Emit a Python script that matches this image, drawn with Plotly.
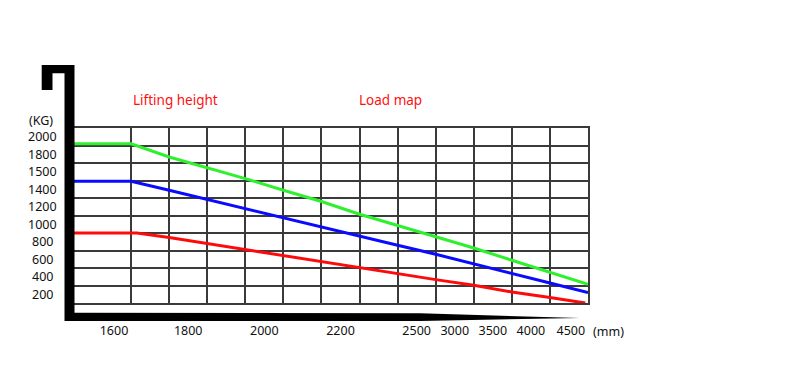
import plotly.graph_objects as go

# ---------------- data ----------------
# x positions are measured in grid cells (vertical grid lines at 0..12)
green_x = [-1.5, 0, 1, 2, 3, 4, 5, 6, 7, 8, 9, 10, 11, 12]
green_kg = [1819, 1819, 1669, 1548, 1422, 1288, 1160, 1014, 888, 762, 629, 488, 347, 214]

blue_x = [-1.5, 0, 1, 2, 3, 4, 5, 6, 7, 8, 9, 10, 11, 12]
blue_kg = [1391, 1391, 1288, 1182, 1079, 976, 869, 766, 660, 557, 450, 336, 229, 119]

red_x = [-1.5, 0.15, 1, 2, 3, 4, 5, 6, 7, 8, 9, 10, 11, 11.93]
red_kg = [800, 800, 748, 679, 610, 537, 469, 405, 336, 267, 202, 126, 62, 0]

x_tick_pos = [-0.45, 1.5, 3.5, 5.5, 7.5, 8.5, 9.5, 10.5, 11.55]
x_tick_labels = ["1600", "1800", "2000", "2200", "2500", "3000", "3500", "4000", "4500"]

y_tick_pos = [100, 300, 500, 700, 900, 1100, 1300, 1500, 1700, 1900]
y_tick_labels = ["200", "400", "600", "800", "1000", "1200", "1400", "1500", "1800", "2000"]

x_grid = list(range(0, 12))
y_grid = list(range(200, 2000, 200))

# ---------------- layout geometry ----------------
OFF = 8  # default page body margin
W, H = 784, 358
L, R, T, B = 66, 204, 120, 63
PW, PH = W - L - R, H - T - B

FONT = "Noto Sans"
GRID = "#3a3a3a"
TXT = "#111"

fig = go.Figure()
for xs, ys, col in [(green_x, green_kg, "#2ef02e"), (blue_x, blue_kg, "#0a0aff"), (red_x, red_kg, "#ff0a0a")]:
    fig.add_trace(go.Scatter(x=xs, y=ys, mode="lines", line=dict(color=col, width=3),
                             showlegend=False, hoverinfo="skip"))


def px(x, y):
    return (x - OFF - L) / PW, (H - B - (y - OFF)) / PH


# black forklift-like bracket (decoration)
pts = [(41.7, 65), (74.5, 65), (74.5, 312.7), (420, 313.3), (580, 318), (420, 321),
       (64.5, 321), (64.5, 73.3), (52.5, 73.3), (52.5, 90), (41.7, 90)]
path = "M " + " L ".join(f"{px(a, b)[0]:.5f},{px(a, b)[1]:.5f}" for a, b in pts) + " Z"
fig.add_shape(type="path", path=path, xref="paper", yref="paper",
              fillcolor="black", line=dict(width=0), layer="above")

fig.update_xaxes(range=[-1.5, 12.0], tickmode="array", tickvals=x_tick_pos, ticktext=x_tick_labels,
                 showgrid=False, zeroline=False, ticks="", ticklabelstandoff=15,
                 showline=True, mirror=True, linecolor=GRID, linewidth=1.5,
                 tickfont=dict(family=FONT, size=12.5, color=TXT),
                 minor=dict(tickmode="array", tickvals=x_grid, showgrid=True, gridcolor=GRID, gridwidth=1.5, ticks=""))
fig.update_yaxes(range=[0, 2000], tickmode="array", tickvals=y_tick_pos, ticktext=[""] * len(y_tick_pos),
                 showgrid=False, zeroline=False, ticks="",
                 showline=True, mirror=True, linecolor=GRID, linewidth=1.5,
                 minor=dict(tickmode="array", tickvals=y_grid, showgrid=True, gridcolor=GRID, gridwidth=1.5, ticks=""))

ann = []
for v, t in zip(y_tick_pos, y_tick_labels):
    ann.append(dict(x=0, xref="paper", xshift=-32, y=v, yref="y", text=t, showarrow=False,
                    xanchor="center", yanchor="middle", font=dict(family=FONT, size=12.5, color=TXT)))
ann.append(dict(x=0, xref="paper", xshift=-33, y=1, yref="paper", yshift=8, text="(KG)", showarrow=False,
                xanchor="center", yanchor="middle", font=dict(family=FONT, size=12.5, color=TXT)))
ann.append(dict(x=1, xref="paper", xshift=20, y=0, yref="paper", yshift=-28, text="(mm)", showarrow=False,
                xanchor="center", yanchor="middle", font=dict(family=FONT, size=12.5, color=TXT)))
ann.append(dict(x=(175.5 - OFF - L) / PW, xref="paper", y=1, yref="paper", yshift=28, text="Lifting height",
                showarrow=False, xanchor="center", yanchor="middle", font=dict(family=FONT, size=13.5, color="#ff1010")))
ann.append(dict(x=(390.8 - OFF - L) / PW, xref="paper", y=1, yref="paper", yshift=28, text="Load map",
                showarrow=False, xanchor="center", yanchor="middle", font=dict(family=FONT, size=13.5, color="#ff1010")))

fig.update_layout(width=W, height=H, margin=dict(l=L, r=R, t=T, b=B, pad=0),
                  paper_bgcolor="white", plot_bgcolor="white", annotations=ann)

fig.write_html("out.html")
